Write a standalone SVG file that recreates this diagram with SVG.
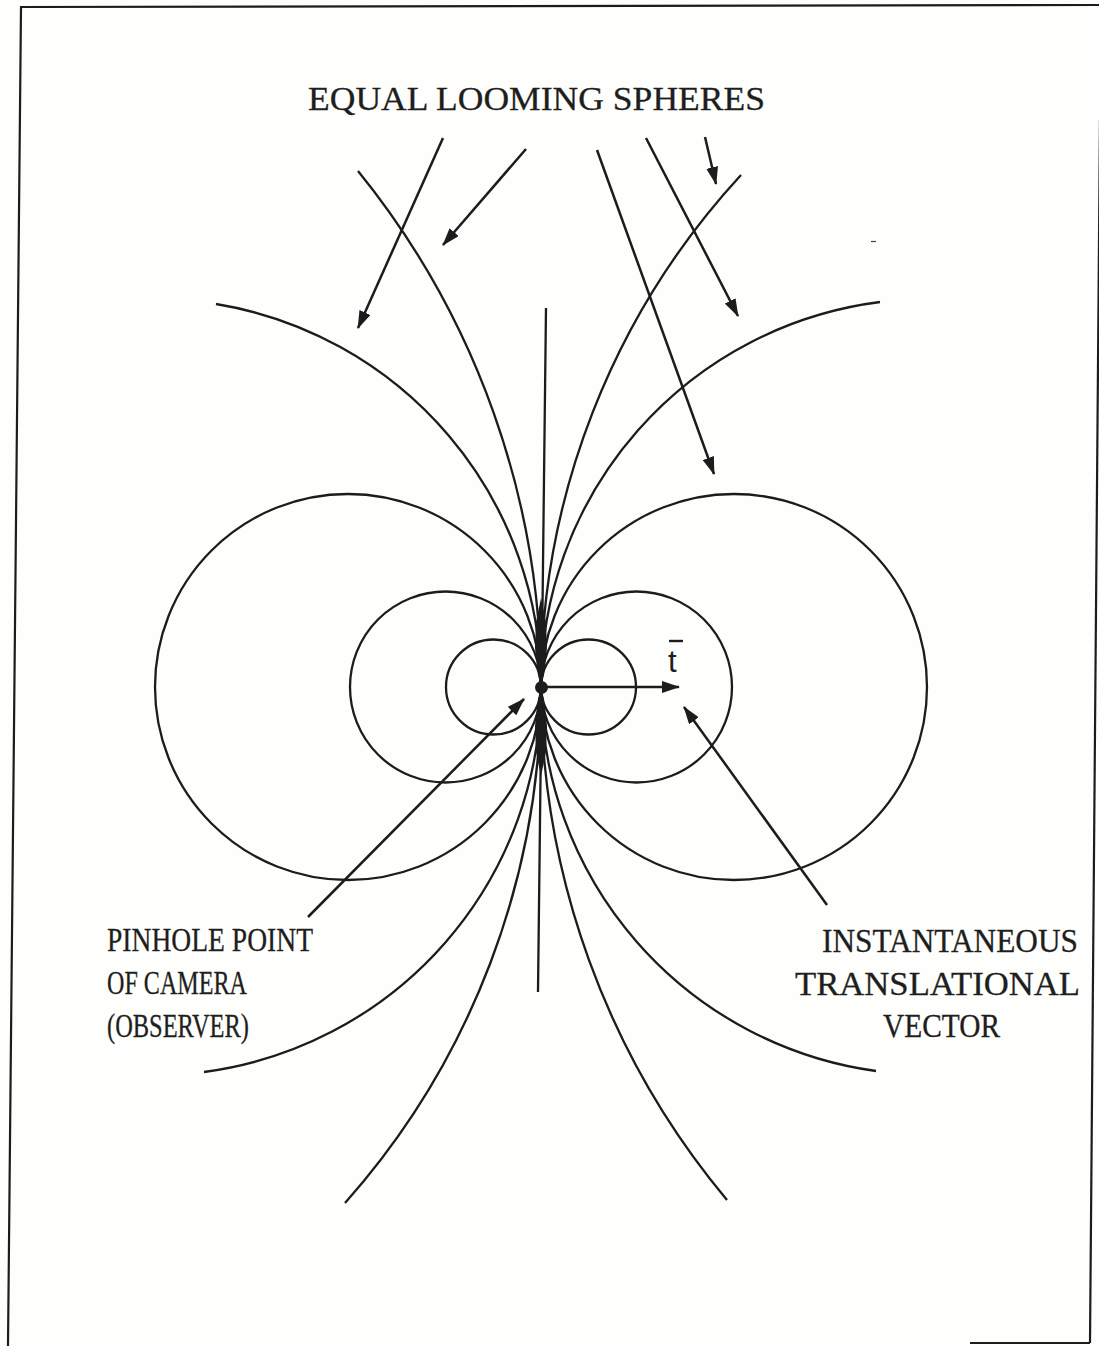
<svg xmlns="http://www.w3.org/2000/svg" width="1099" height="1346" viewBox="0 0 1099 1346">
  <style>
    .ln { fill: none; stroke: #1c1c1c; stroke-width: 2.3; }
    .ar { fill: none; stroke: #1c1c1c; stroke-width: 2.5; marker-end: url(#ah); }
    .lbl { font-family: "Liberation Serif", "Times New Roman", serif; font-size: 33px; fill: #1e1e1e; stroke: #1e1e1e; stroke-width: 0.3; }
    .sym { font-family: "Liberation Sans", Arial, sans-serif; font-size: 31px; fill: #1e1e1e; }
    .bd { fill: none; stroke: #1c1c1c; stroke-width: 2.2; }
  </style>
  <defs>
    <marker id="ah" viewBox="0 0 18 12" refX="17" refY="6" markerWidth="18" markerHeight="12" orient="auto" markerUnits="userSpaceOnUse">
      <path d="M0,0 L18,6 L0,12 Z" fill="#1c1c1c"/>
    </marker>
  </defs>
  <rect x="0" y="0" width="1099" height="1346" fill="#fefefc"/>

  <g id="border">
    <polyline class="bd" points="8,1346 21,7 1100,5"/>
    <line class="bd" x1="1100" y1="120" x2="1090" y2="1343"/>
    <line class="bd" x1="970" y1="1343" x2="1090" y2="1343"/>
  </g>

  <g id="spheres">
    <circle class="ln" cx="493.5" cy="687" r="47.5"/>
    <circle class="ln" cx="588.5" cy="687" r="47.5"/>
    <circle class="ln" cx="445.5" cy="687" r="95.5"/>
    <circle class="ln" cx="636.5" cy="687" r="95.5"/>
    <circle class="ln" cx="348" cy="687" r="193"/>
    <circle class="ln" cx="734" cy="687" r="193"/>
    <path class="ln" d="M216,304 A388,388 0 0 1 541,687 A388,388 0 0 1 204,1072"/>
    <path class="ln" d="M880,302 A388,388 0 0 0 541,687 A388,388 0 0 0 876,1071"/>
    <path class="ln" d="M358,171 A820,820 0 0 1 541,687 A777,777 0 0 1 345,1203"/>
    <path class="ln" d="M741,175 A755,755 0 0 0 541,687 A800,800 0 0 0 727,1200"/>
    <line class="ln" x1="546" y1="308" x2="538" y2="992"/>
    <path d="M541,598 L546,622 L547,648 L544,675 L541,687 L538,675 L535,648 L536,622 Z" fill="#1c1c1c"/>
    <path d="M541,776 L546,752 L547,726 L544,699 L541,687 L538,699 L535,726 L536,752 Z" fill="#1c1c1c"/>
    <circle cx="541.5" cy="687.5" r="6.5" fill="#1c1c1c"/>
    <line x1="871" y1="241.5" x2="876" y2="241.5" stroke="#444" stroke-width="1.2"/>
  </g>

  <g id="connectors">
    <line class="ar" x1="443" y1="138" x2="358" y2="328"/>
    <line class="ar" x1="526" y1="149" x2="443" y2="245"/>
    <line class="ar" x1="597" y1="150" x2="714" y2="474"/>
    <line class="ar" x1="646" y1="138" x2="738" y2="316"/>
    <line class="ar" x1="705" y1="137" x2="716" y2="184"/>
    <line class="ar" x1="541" y1="687" x2="679" y2="687"/>
    <line class="ar" x1="308" y1="917" x2="524" y2="699"/>
    <line class="ar" x1="827" y1="905" x2="684" y2="707"/>
  </g>

  <g id="title">
    <text class="lbl" x="308" y="110" textLength="457" lengthAdjust="spacingAndGlyphs">EQUAL LOOMING SPHERES</text>
  </g>
  <g id="pinhole-label">
    <text class="lbl" x="107" y="951" textLength="206" lengthAdjust="spacingAndGlyphs">PINHOLE POINT</text>
    <text class="lbl" x="107" y="994" textLength="140" lengthAdjust="spacingAndGlyphs">OF CAMERA</text>
    <text class="lbl" x="107" y="1037" textLength="142" lengthAdjust="spacingAndGlyphs">(OBSERVER)</text>
  </g>
  <g id="vector-label">
    <text class="lbl" x="822" y="952" textLength="256" lengthAdjust="spacingAndGlyphs">INSTANTANEOUS</text>
    <text class="lbl" x="795" y="995" textLength="285" lengthAdjust="spacingAndGlyphs">TRANSLATIONAL</text>
    <text class="lbl" x="883" y="1037" textLength="117" lengthAdjust="spacingAndGlyphs">VECTOR</text>
  </g>
  <g id="t-label">
    <text class="sym" x="668" y="672">t</text>
    <line x1="669" y1="641" x2="683" y2="641" stroke="#1c1c1c" stroke-width="2.4"/>
  </g>
</svg>
